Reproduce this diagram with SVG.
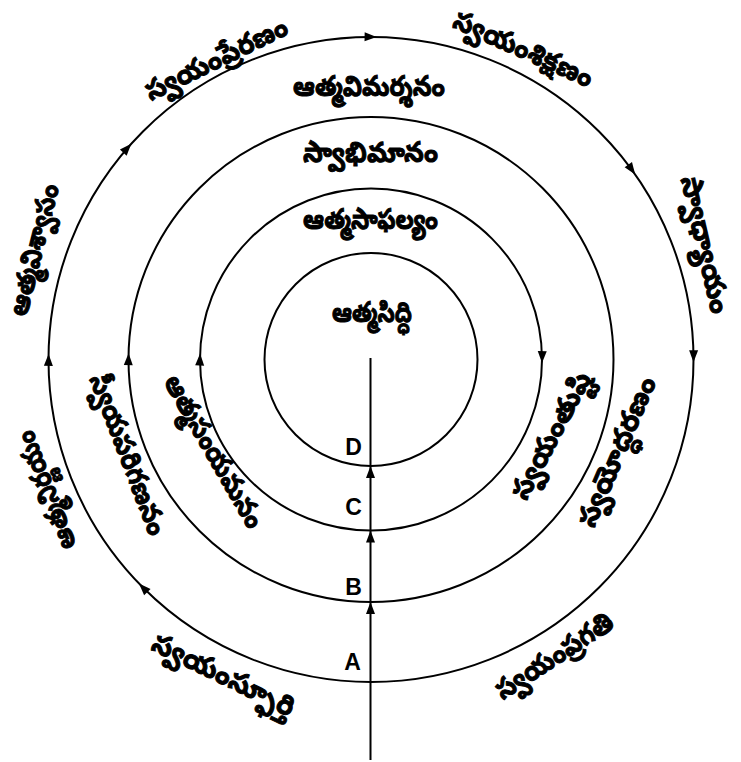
<svg xmlns="http://www.w3.org/2000/svg" width="741" height="762" viewBox="0 0 741 762">
<style>
.ring{fill:none;stroke:#000;stroke-width:2}
.te{font-family:"Noto Sans Telugu","Noto Sans","Lohit Telugu",sans-serif;font-weight:bold;font-size:28px;fill:#000;stroke:#000;stroke-width:1;text-anchor:middle}
.lt{font-family:"Liberation Sans",Arial,sans-serif;font-weight:bold;font-size:23px;text-anchor:middle;fill:#000}
.ln{stroke:#000;stroke-width:2;fill:none}
</style>
<defs>
<path id="ah" d="M0,0 L-12,-4.5 L-12,4.5 Z" fill="#000"/>
</defs>
<rect width="741" height="762" fill="#fff"/>
<g id="ring-A"><circle class="ring" cx="371" cy="359.5" r="322.5"/></g>
<g id="ring-B"><circle class="ring" cx="371" cy="359.5" r="242.5"/></g>
<g id="ring-C"><circle class="ring" cx="371" cy="359.5" r="171"/></g>
<g id="ring-D"><circle class="ring" cx="371" cy="359.5" r="106.5"/></g>
<g id="connectors">
<line class="ln" x1="370.5" y1="358" x2="370.5" y2="760"/>
<use href="#ah" transform="translate(370.5,466) rotate(-90)"/>
<use href="#ah" transform="translate(370.5,530.5) rotate(-90)"/>
<use href="#ah" transform="translate(370.5,602) rotate(-90)"/>
<use href="#ah" transform="translate(376.6,37) rotate(1)"/>
<use href="#ah" transform="translate(131.3,143.7) rotate(-48)"/>
<use href="#ah" transform="translate(635.2,174.5) rotate(55)"/>
<use href="#ah" transform="translate(693.5,362.3) rotate(90.5)"/>
<use href="#ah" transform="translate(48.6,353.9) rotate(271)"/>
<use href="#ah" transform="translate(139,583.5) rotate(226)"/>
<use href="#ah" transform="translate(128.6,353.2) rotate(271.5)"/>
<use href="#ah" transform="translate(200.1,353.5) rotate(272)"/>
<use href="#ah" transform="translate(542,363.1) rotate(91.2)"/>
</g>
<g id="letters">
<text class="lt" x="353.5" y="455">D</text>
<text class="lt" x="353.5" y="515">C</text>
<text class="lt" x="353.5" y="595">B</text>
<text class="lt" x="352.5" y="670">A</text>
</g>
<g id="labels">
<text class="te" x="372" y="322" textLength="80" lengthAdjust="spacingAndGlyphs">ఆత్మసిద్ధి</text>
<text class="te" x="370.5" y="229" textLength="135" lengthAdjust="spacingAndGlyphs">ఆత్మసాఫల్యం</text>
<text class="te" x="370.5" y="162" textLength="135" lengthAdjust="spacingAndGlyphs">స్వాభిమానం</text>
<text class="te" x="369" y="96" textLength="152" lengthAdjust="spacingAndGlyphs">ఆత్మవిమర్శనం</text>
<text class="te" transform="translate(217,60) rotate(-26)" y="8" textLength="155" lengthAdjust="spacingAndGlyphs">స్వయంప్రేరణం</text>
<text class="te" transform="translate(523,50) rotate(24)" y="8" textLength="150" lengthAdjust="spacingAndGlyphs">స్వయంశిక్షణం</text>
<text class="te" transform="translate(704,245) rotate(77)" y="8" textLength="140" lengthAdjust="spacingAndGlyphs">స్వాధ్యాయం</text>
<text class="te" transform="translate(35,250) rotate(-76)" y="8" textLength="135" lengthAdjust="spacingAndGlyphs">ఆత్మవిశ్వాసం</text>
<text class="te" transform="translate(47,490) rotate(-111)" y="8" textLength="125" lengthAdjust="spacingAndGlyphs">ఆత్మనిర్ణయం</text>
<text class="te" transform="translate(127,455) rotate(69)" y="8" textLength="170" lengthAdjust="spacingAndGlyphs">స్వీయపరిగణనం</text>
<text class="te" transform="translate(213,452) rotate(60)" y="8" textLength="172" lengthAdjust="spacingAndGlyphs">ఆత్మసంయమనం</text>
<text class="te" transform="translate(552,436) rotate(-62)" y="8" textLength="140" lengthAdjust="spacingAndGlyphs">స్వయంతుష్టి</text>
<text class="te" transform="translate(618,452) rotate(-67)" y="8" textLength="160" lengthAdjust="spacingAndGlyphs">స్వయోద్ధరణం</text>
<text class="te" transform="translate(223,676) rotate(26)" y="8" textLength="155" lengthAdjust="spacingAndGlyphs">స్వయంస్ఫూర్తి</text>
<text class="te" transform="translate(555,657) rotate(-33)" y="8" textLength="135" lengthAdjust="spacingAndGlyphs">స్వయంప్రగతి</text>
</g>
</svg>
